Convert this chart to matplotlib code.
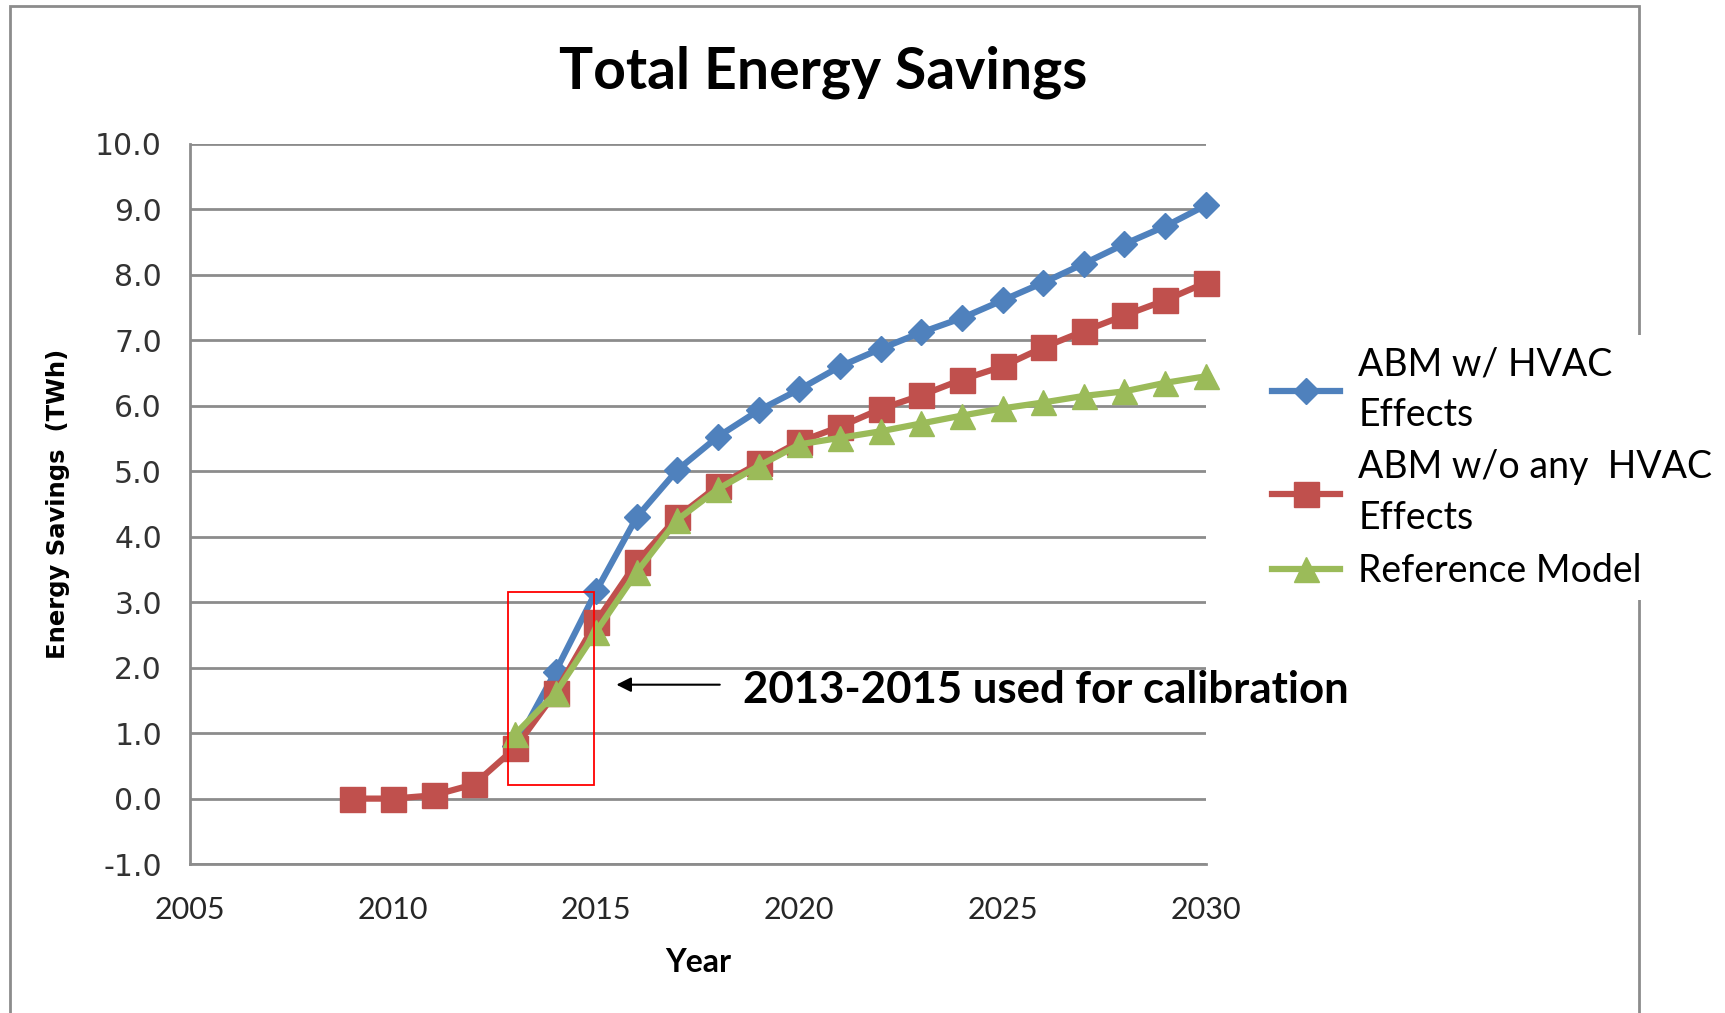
import matplotlib
matplotlib.use('Agg')
import matplotlib.pyplot as plt
from matplotlib.patches import Rectangle

# values (TWh)
years_blue = list(range(2013, 2031))
abm_hvac = [0.80, 1.94, 3.17, 4.30, 5.02, 5.53, 5.93, 6.25, 6.60, 6.87, 7.12,
            7.34, 7.61, 7.88, 8.17, 8.47, 8.74, 9.06]

years_red = list(range(2009, 2031))
abm_no_hvac = [0.00, 0.00, 0.05, 0.22, 0.77, 1.62, 2.70, 3.61, 4.30, 4.78, 5.12,
               5.45, 5.68, 5.95, 6.16, 6.40, 6.60, 6.89, 7.14, 7.38, 7.61, 7.88]

years_green = list(range(2013, 2031))
reference_model = [0.98, 1.61, 2.55, 3.46, 4.26, 4.73, 5.08, 5.41, 5.51, 5.61,
                   5.73, 5.85, 5.96, 6.05, 6.15, 6.22, 6.35, 6.45]

series_labels = ['ABM w/ HVAC\nEffects', 'ABM w/o any  HVAC\nEffects', 'Reference Model']
series_colors = ['#4F81BD', '#C0504D', '#9BBB59']

x_ticks = [2005, 2010, 2015, 2020, 2025, 2030]
y_ticks = [-1.0, 0.0, 1.0, 2.0, 3.0, 4.0, 5.0, 6.0, 7.0, 8.0, 9.0, 10.0]

calib_text = '2013-2015 used for calibration'

grid_col = '#8C8C8C'
calibri = ['Lato', 'DejaVu Sans']
verdana = ['DejaVu Sans']

fig = plt.figure(figsize=(17.25, 10.13), dpi=100)
ax = fig.add_axes([0.110, 0.147, 0.589, 0.711])

l1, = ax.plot(years_blue, abm_hvac, color=series_colors[0], lw=4.5, marker='D',
              ms=13, clip_on=False, zorder=3)
l2, = ax.plot(years_red, abm_no_hvac, color=series_colors[1], lw=4.5, marker='s',
              ms=18, clip_on=False, zorder=4)
l3, = ax.plot(years_green, reference_model, color=series_colors[2], lw=4.5, marker='^',
              ms=18, clip_on=False, zorder=5)

ax.set_xlim(2005, 2030)
ax.set_ylim(-1.0, 10.0)
ax.set_xticks(x_ticks)
ax.set_xticklabels([str(v) for v in x_ticks], family=calibri, fontsize=22, color='#262626')
ax.set_yticks(y_ticks)
ax.set_yticklabels([f'{v:.1f}' for v in y_ticks], family=verdana, fontsize=21.5, color='#333333')
ax.tick_params(axis='both', length=0)
ax.tick_params(axis='y', pad=20)
ax.tick_params(axis='x', pad=23)

ax.yaxis.grid(True, color=grid_col, lw=2)
ax.set_axisbelow(True)
for s in ['top', 'right']:
    ax.spines[s].set_visible(False)
for s in ['left', 'bottom']:
    ax.spines[s].set_color(grid_col)
    ax.spines[s].set_linewidth(2)

ax.set_xlabel('Year', family=calibri, fontweight='bold', fontsize=23, labelpad=17)
ax.set_ylabel('Energy Savings  (TWh)', family=verdana, fontweight='bold', fontsize=17.5,
              labelpad=18)

fig.text(0.477, 0.929, 'Total Energy Savings', family=calibri, fontweight='bold',
         fontsize=41, ha='center', va='center')

# calibration box and arrow
ax.add_patch(Rectangle((2012.83, 0.21), 2.11, 2.94, fill=False, edgecolor='red',
                       lw=1.3, zorder=6, clip_on=False))
ax.annotate('', xy=(2015.43, 1.74), xytext=(2018.11, 1.74),
            arrowprops=dict(arrowstyle='-|>', color='black', lw=1.5, mutation_scale=22))
ax.text(2018.62, 1.66, calib_text, family=calibri, fontweight='bold', fontsize=31.5,
        va='center', ha='left', clip_on=False)

# outer border of the slide
fig.patches.append(Rectangle((0.006, -0.05), 0.944, 1.044, transform=fig.transFigure,
                             fill=False, edgecolor='#8C8C8C', lw=2, zorder=1))

leg = fig.legend([l1, l2, l3], series_labels, loc='upper left',
                 bbox_to_anchor=(0.731, 0.6695), prop={'family': calibri, 'size': 27},
                 frameon=True, facecolor='white', edgecolor='none', framealpha=1,
                 fancybox=False, borderpad=0.3, borderaxespad=0, labelspacing=0.45,
                 handlelength=1.8, handletextpad=0.5)
for t in leg.get_texts():
    t.set_linespacing(1.5)

fig.savefig('out.png', dpi=100, facecolor='white')
